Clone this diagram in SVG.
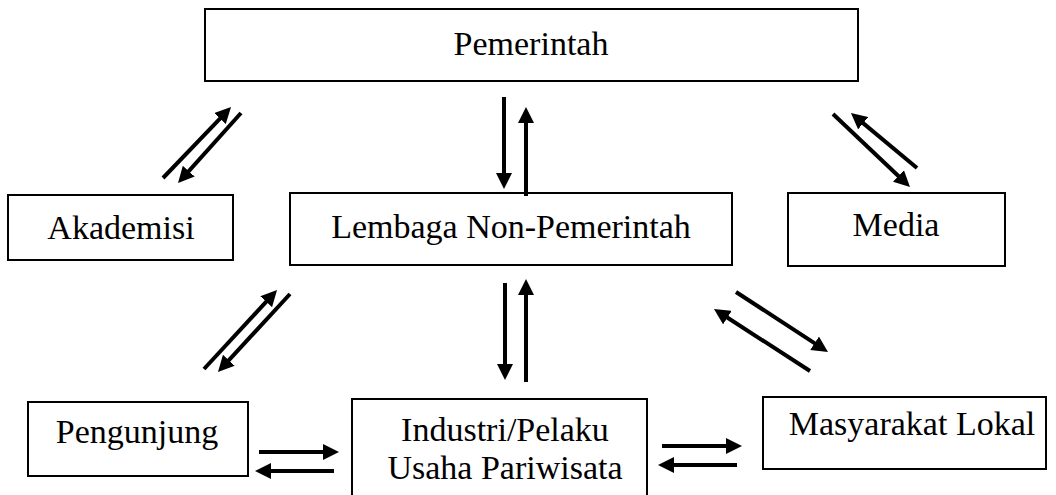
<svg xmlns="http://www.w3.org/2000/svg" width="1056" height="495" viewBox="0 0 1056 495">
<style>
.box{fill:#fff;stroke:#000;stroke-width:2}
.t{font-family:"Liberation Serif","Times New Roman",serif;font-size:34px;fill:#000;text-anchor:middle}
.c{stroke:#000;stroke-width:4;fill:none;marker-end:url(#ah)}
</style>
<defs>
<marker id="ah" markerUnits="userSpaceOnUse" markerWidth="16" markerHeight="16" refX="8" refY="8" orient="auto">
<path d="M0,0 L16,8 L0,16 z" fill="#000"/>
</marker>
</defs>
<rect width="1056" height="495" fill="#fff"/>
<g id="pemerintah"><rect class="box" x="205" y="9" width="653" height="72"/><text class="t" x="531" y="55">Pemerintah</text></g>
<g id="akademisi"><rect class="box" x="8" y="195" width="225" height="65"/><text class="t" x="121" y="239">Akademisi</text></g>
<g id="lembaga"><rect class="box" x="290" y="193" width="442" height="72"/><text class="t" x="511" y="238">Lembaga Non-Pemerintah</text></g>
<g id="media"><rect class="box" x="788" y="193" width="217" height="73"/><text class="t" x="896" y="236">Media</text></g>
<g id="pengunjung"><rect class="box" x="28" y="402" width="220" height="74"/><text class="t" x="137" y="443">Pengunjung</text></g>
<g id="industri"><rect class="box" x="352" y="399" width="295" height="110"/><text class="t" x="505" y="441">Industri/Pelaku</text><text class="t" x="505" y="479">Usaha Pariwisata</text></g>
<g id="masyarakat"><rect class="box" x="763" y="397" width="283" height="72"/><text class="t" x="912" y="435">Masyarakat Lokal</text></g>
<g id="connectors">
<line class="c" x1="163" y1="178" x2="225.5" y2="112.8"/>
<line class="c" x1="241" y1="113" x2="183.4" y2="177.1"/>
<line class="c" x1="504" y1="97" x2="504" y2="181"/>
<line class="c" x1="526" y1="196" x2="526" y2="115"/>
<line class="c" x1="833" y1="114" x2="904.2" y2="181.5"/>
<line class="c" x1="917" y1="168" x2="857.1" y2="118.1"/>
<line class="c" x1="204" y1="369" x2="271.6" y2="295.9"/>
<line class="c" x1="290" y1="294" x2="223.4" y2="366.1"/>
<line class="c" x1="505" y1="283" x2="505" y2="372"/>
<line class="c" x1="526" y1="382" x2="526" y2="287"/>
<line class="c" x1="736" y1="292" x2="821.3" y2="347.6"/>
<line class="c" x1="810" y1="371" x2="720.7" y2="313.3"/>
<line class="c" x1="259" y1="452" x2="331" y2="452"/>
<line class="c" x1="334" y1="471" x2="263" y2="471"/>
<line class="c" x1="662" y1="446" x2="734" y2="446"/>
<line class="c" x1="737" y1="465" x2="666" y2="465"/>
</g>
</svg>
